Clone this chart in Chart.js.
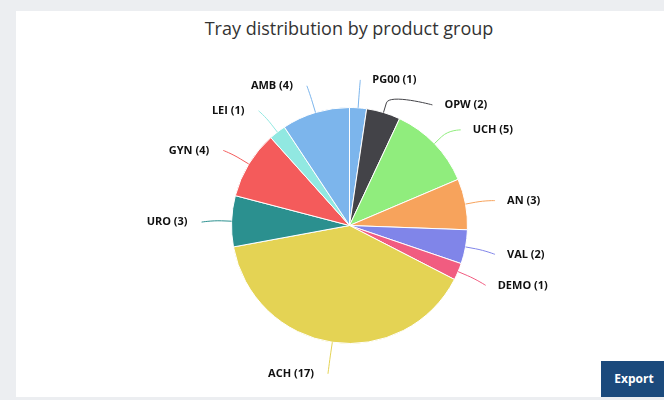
<!DOCTYPE html>
<html>
<head>
<meta charset="utf-8">
<script src="https://cdn.jsdelivr.net/npm/chart.js@4"></script>
<style>
    html, body { margin: 0; padding: 0; width: 664px; height: 400px; overflow: hidden; background: #eceef1; }
    .card { position: absolute; left: 16px; top: 11px; right: 0; bottom: 3px; background: #fff; }
    .title { position: absolute; left: 0; top: 16px; width: 698px; text-align: center;
        font: 18px "Open Sans", sans-serif; color: #333; line-height: 24px; }
    #pieChart { position: absolute; left: 0; top: 0; }
    .export { position: absolute; left: 601px; top: 361px; width: 66px; height: 36px; background: #1b4a7c;
        color: #fff; font: bold 12px "Open Sans", sans-serif; line-height: 36px; text-align: center; }
</style>
</head>
<body>
<div class="card"></div>
<div class="title">Tray distribution by product group</div>
<canvas id="pieChart" width="664" height="400"></canvas>
<div class="export">Export</div>
<script>
// Tray counts per product group, clockwise from 12 o'clock
const productGroups = ['PG00', 'OPW', 'UCH', 'AN', 'VAL', 'DEMO', 'ACH', 'URO', 'GYN', 'LEI', 'AMB'];
const trayCounts = [1, 2, 5, 3, 2, 1, 17, 3, 4, 1, 4];
const sliceColors = ['#7cb5ec', '#434348', '#90ed7d', '#f7a35c', '#8085e9', '#f15c80',
    '#e4d354', '#2b908f', '#f45b5b', '#91e8e1', '#7cb5ec'];

// Labels outside the pie with soft connectors
const outsideLabels = {
    id: 'outsideLabels',
    afterDatasetsDraw(chart) {
        const ctx = chart.ctx;
        const meta = chart.getDatasetMeta(0);
        const items = meta.data.map((arc, i) => {
            const p = arc.getProps(['x', 'y', 'startAngle', 'endAngle', 'outerRadius'], true);
            const mid = (p.startAngle + p.endAngle) / 2;
            const R = p.outerRadius + 30;
            return {
                i, cx: p.x, cy: p.y, r: p.outerRadius, mid, R,
                right: Math.cos(mid) >= 0,
                ly: p.y + R * Math.sin(mid)
            };
        });

        // push overlapping labels down on each side
        [true, false].forEach(side => {
            const list = items.filter(it => it.right === side).sort((a, b) => a.ly - b.ly);
            for (let k = 1; k < list.length; k++) {
                if (list[k].ly < list[k - 1].ly + 25) list[k].ly = list[k - 1].ly + 25;
            }
        });

        ctx.save();
        ctx.font = 'bold 11px "Open Sans", sans-serif';
        ctx.textBaseline = 'middle';
        items.forEach(it => {
            const cos = Math.cos(it.mid), sin = Math.sin(it.mid);
            const sign = it.right ? 1 : -1;
            const tx = it.cx + it.r * cos, ty = it.cy + it.r * sin;
            const bx = it.cx + (it.r + 10) * cos, by = it.cy + (it.r + 10) * sin;
            const dy = it.ly - it.cy;
            const lx = it.cx + sign * Math.sqrt(Math.max(it.R * it.R - dy * dy, 0));
            const ly = it.ly + 2;

            ctx.beginPath();
            ctx.moveTo(tx, ty);
            ctx.lineTo(bx, by);
            ctx.bezierCurveTo(2 * bx - tx, 2 * by - ty, lx, ly, lx, ly);
            ctx.strokeStyle = sliceColors[it.i];
            ctx.lineWidth = 1;
            ctx.stroke();

            ctx.fillStyle = '#111';
            ctx.textAlign = it.right ? 'left' : 'right';
            ctx.fillText(`${productGroups[it.i]} (${trayCounts[it.i]})`, lx + (it.right ? 12 : -14), ly);
        });
        ctx.restore();
    }
};

new Chart(document.getElementById('pieChart'), {
    type: 'pie',
    data: {
        labels: productGroups,
        datasets: [{
            data: trayCounts,
            backgroundColor: sliceColors,
            borderColor: '#ffffff',
            borderWidth: 1
        }]
    },
    options: {
        responsive: false,
        animation: false,
        layout: { padding: { top: 107, bottom: 56, left: 231, right: 196 } },
        plugins: {
            legend: { display: false },
            title: { display: false }
        }
    },
    plugins: [outsideLabels]
});
</script>
</body>
</html>
